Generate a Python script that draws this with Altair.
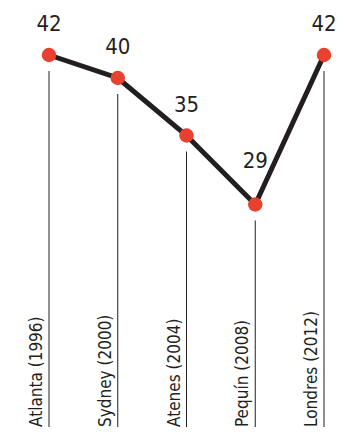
import altair as alt
import pandas as pd

cities = ["Atlanta (1996)", "Sydney (2000)", "Atenes (2004)", "Pequín (2008)", "Londres (2012)"]
values = [42, 40, 35, 29, 42]

df = pd.DataFrame({"city": cities, "value": values, "order": list(range(len(cities)))})

FONT = "DejaVu Sans Condensed"
DARK = "#231f20"
RED = "#e8412f"

x = alt.X("city:N", sort=cities, axis=None, scale=alt.Scale(type="point", padding=0))
y = alt.Y("value:Q", axis=None, scale=alt.Scale(domain=[10, 46], nice=False, zero=False))

base = alt.Chart(df)

rules = base.mark_rule(color=DARK, strokeWidth=1, yOffset=16).encode(
    x=x, y=y, y2=alt.value(418)
)

line = base.mark_line(color=DARK, strokeWidth=5).encode(x=x, y=y, order="order:Q")

points = base.mark_circle(color=RED, opacity=1, size=210).encode(x=x, y=y)

flagged = base.transform_window(
    prev="lag(value)", next="lead(value)", sort=[alt.SortField("order")]
).transform_calculate(
    valley="isValid(datum.prev) && isValid(datum.next) && datum.value < datum.prev && datum.value < datum.next"
)

vlabels = flagged.transform_filter("!datum.valley").mark_text(
    font=FONT, fontSize=22, color=DARK, dy=-31, baseline="middle"
).encode(x=x, y=y, text=alt.Text("value:Q"))

vlabels_valley = flagged.transform_filter("datum.valley").mark_text(
    font=FONT, fontSize=22, color=DARK, dy=-44, baseline="middle"
).encode(x=x, y=y, text=alt.Text("value:Q"))

clabels = base.mark_text(
    font=FONT, fontSize=17, color=DARK, angle=270, align="left", baseline="bottom", dy=-3
).encode(x=x, y=alt.value(418), text="city:N")

chart = (rules + line + points + vlabels + vlabels_valley + clabels).properties(
    width=275,
    height=414,
    autosize=alt.AutoSizeParams(type="none"),
    padding={"left": 41, "right": 12, "top": 1, "bottom": 4},
).configure_view(stroke=None)

chart.save("out.html", embed_options={"renderer": "svg", "actions": False})
